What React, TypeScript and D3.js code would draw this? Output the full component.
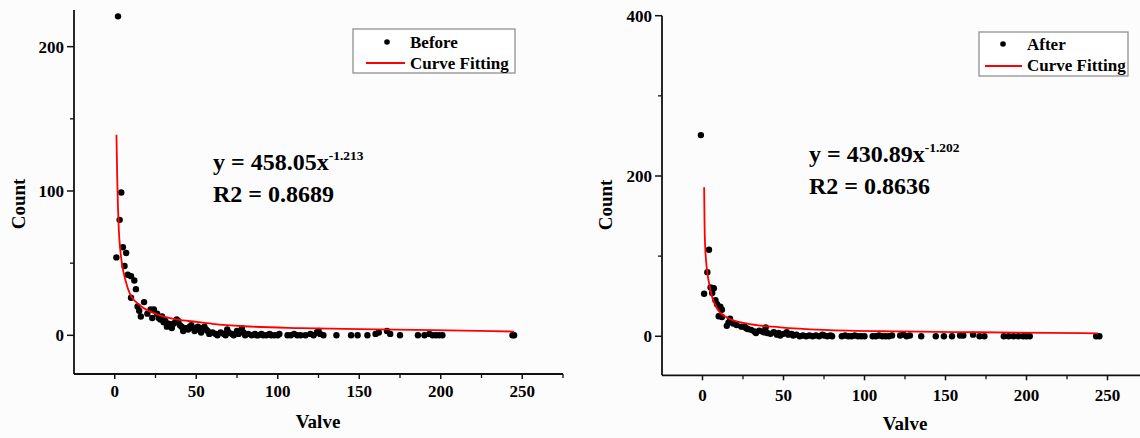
import React from 'react';
import * as d3 from 'd3';

// tick values
const xTicks = [0, 50, 100, 150, 200, 250];
const xMinorTicks = [25, 75, 125, 175, 225, 275];
const beforeYTicks = [0, 100, 200];
const beforeYMinor = [50, 150];
const afterYTicks = [0, 200, 400];
const afterYMinor = [100, 300];

// [Valve, Count]
const beforePoints: [number, number][] = [
  [2, 221], [1, 54], [3, 80], [4, 99], [5, 61], [7, 57], [6, 48], [8, 42], [10, 41], [12, 38],
  [13, 32], [10, 26], [14, 20], [18, 23], [16, 13], [15, 17], [22, 18], [20, 15], [26, 15], [23, 12],
  [24, 18], [27, 12], [28, 11], [29, 13], [30, 9], [31, 10], [32, 6], [33, 8], [34, 7], [35, 5],
  [36, 8], [37, 9], [38, 11], [39, 10], [40, 7], [41, 6], [42, 3], [43, 5], [44, 5], [45, 4],
  [46, 6], [47, 7], [48, 5], [49, 3], [50, 4], [51, 6], [52, 5], [53, 2], [54, 5], [55, 6],
  [56, 4], [57, 3], [58, 1], [60, 2], [62, 1], [63, 0], [65, 2], [67, 1], [68, 0], [69, 4],
  [70, 2], [72, 1], [73, 0], [75, 3], [76, 1], [78, 5], [79, 2], [80, 0], [82, 1], [84, 0],
  [86, 1], [87, 0], [88, 0], [90, 1], [91, 0], [93, 0], [95, 1], [96, 0], [98, 0], [100, 0],
  [101, 1], [106, 0], [108, 0], [110, 1], [112, 0], [114, 0], [117, 0], [120, 1], [122, 0], [124, 2],
  [125, 3], [126, 1], [128, 0], [136, 0], [145, 0], [149, 0], [155, 0], [160, 1], [162, 2], [167, 3],
  [169, 1], [175, 0], [186, 0], [190, 0], [193, 1], [195, 0], [197, 0], [199, 0], [201, 0], [244, 0],
  [245, 0],
];

const beforeFit: [number, number][] = [
  [1.05, 139], [1.5, 110], [2, 88], [2.5, 73], [3.5, 58], [4.5, 49], [6.6, 38], [9.6, 28],
  [15.8, 20.5], [26, 14.5], [38, 11], [50, 9.3], [60, 8], [79, 6.3], [114, 5], [150, 4.3],
  [196, 3.6], [245, 2.6],
];

const afterPoints: [number, number][] = [
  [-1, 251], [1, 53], [3, 80], [4, 108], [5, 61], [6, 54], [7, 60], [8, 45], [9, 40], [11, 37],
  [12, 33], [10, 25], [12, 24], [17, 22], [15, 13], [16, 17], [19, 16], [21, 14], [24, 12], [26, 12],
  [28, 9], [27, 10], [30, 8], [32, 6], [33, 4], [35, 7], [37, 6], [39, 11], [38, 5], [40, 4],
  [42, 3], [44, 5], [46, 2], [47, 4], [48, 1], [50, 3], [52, 5], [53, 2], [55, 3], [56, 1],
  [58, 2], [60, 0], [62, 1], [64, 0], [66, 1], [68, 0], [70, 1], [72, 0], [74, 2], [75, 1],
  [77, 0], [79, 1], [80, 0], [86, 0], [88, 1], [90, 0], [92, 0], [94, 1], [96, 0], [98, 0],
  [100, 0], [105, 0], [107, 0], [109, 1], [111, 0], [113, 0], [115, 0], [117, 1], [122, 1], [124, 2],
  [126, 0], [128, 1], [135, 0], [144, 0], [149, 0], [154, 0], [159, 1], [161, 1], [167, 2], [171, 0],
  [174, 0], [186, 0], [189, 0], [192, 0], [195, 0], [198, 0], [200, 0], [202, 0], [243, 0], [245, 0],
];

const afterFit: [number, number][] = [
  [1.0, 186], [1.3, 135], [1.7, 110], [2.3, 92], [3.7, 70], [5.8, 50], [8.9, 35], [15, 23.5],
  [27, 16], [48, 11.2], [75, 8], [122, 6], [171, 5], [244, 3.7],
];

const FONT = '"Liberation Serif", "Times New Roman", serif';

type PanelProps = {
  points: [number, number][];
  fit: [number, number][];
  xRange: [number, number];
  yDomain: [number, number];
  yRange: [number, number];
  yTicks: number[];
  yMinor: number[];
  label: string;
  box: { x: number; y: number; w: number; h: number };
  dot: [number, number];
  swatch: [number, number, number];
  legendText: [number, number, number];
  eq: { x: number; y: number; coef: string; exp: string; r2: string };
  countPos: [number, number];
  valvePos: [number, number];
  xLabelY: number;
};

const Panel = (p: PanelProps) => {
  const x = d3.scaleLinear().domain([-25, 275]).range(p.xRange);
  const y = d3.scaleLinear().domain(p.yDomain).range(p.yRange);
  const line = d3.line<[number, number]>()
    .x(d => x(d[0]))
    .y(d => y(d[1]))
    .curve(d3.curveMonotoneX);
  const x0 = p.xRange[0];
  const yb = p.yRange[0];

  return (
    <g fontFamily={FONT} fontWeight="bold">
      {/* axes */}
      <line x1={x0} x2={x0} y1={p.yRange[0]} y2={p.yRange[1]} stroke="#111" strokeWidth={1.8} />
      <line x1={x0} x2={p.xRange[1]} y1={yb} y2={yb} stroke="#111" strokeWidth={1.8} />
      {p.yTicks.map(t => (
        <g key={'yt' + t}>
          <line x1={x0 - 7} x2={x0} y1={y(t)} y2={y(t)} stroke="#111" strokeWidth={1.5} />
          <text x={x0 - 10} y={y(t)} dy="0.35em" textAnchor="end" fontSize={17}>{t}</text>
        </g>
      ))}
      {p.yMinor.map(t => (
        <line key={'ym' + t} x1={x0 - 4} x2={x0} y1={y(t)} y2={y(t)} stroke="#111" strokeWidth={1.3} />
      ))}
      {xTicks.map(t => (
        <g key={'xt' + t}>
          <line x1={x(t)} x2={x(t)} y1={yb} y2={yb + 5} stroke="#111" strokeWidth={1.5} />
          <text x={x(t)} y={p.xLabelY} textAnchor="middle" fontSize={17}>{t}</text>
        </g>
      ))}
      {xMinorTicks.map(t => (
        <line key={'xm' + t} x1={x(t)} x2={x(t)} y1={yb} y2={yb + 4} stroke="#111" strokeWidth={1.3} />
      ))}
      <text x={p.valvePos[0]} y={p.valvePos[1]} textAnchor="middle" fontSize={19}>Valve</text>
      <text transform={`translate(${p.countPos[0]},${p.countPos[1]}) rotate(-90)`} textAnchor="middle" fontSize={19}>Count</text>

      {/* data */}
      {p.points.map((d, i) => (
        <circle key={i} cx={x(d[0])} cy={y(d[1])} r={3.2} fill="#000" />
      ))}
      <path d={line(p.fit) || ''} fill="none" stroke="#ff0000" strokeWidth={1.8} />

      {/* equation */}
      <text x={p.eq.x} y={p.eq.y} fontSize={24}>
        y = {p.eq.coef}x
        <tspan fontSize={13.5} dy={-10}>{p.eq.exp}</tspan>
      </text>
      <text x={p.eq.x} y={p.eq.y + 32} fontSize={24}>R2 = {p.eq.r2}</text>

      {/* legend */}
      <rect x={p.box.x} y={p.box.y} width={p.box.w} height={p.box.h} fill="#fff" stroke="#888" strokeWidth={1.2} />
      <circle cx={p.dot[0]} cy={p.dot[1]} r={2.8} fill="#000" />
      <line x1={p.swatch[0]} x2={p.swatch[1]} y1={p.swatch[2]} y2={p.swatch[2]} stroke="#ff0000" strokeWidth={1.8} />
      <text x={p.legendText[0]} y={p.legendText[1]} fontSize={17}>{p.label}</text>
      <text x={p.legendText[0]} y={p.legendText[2]} fontSize={17}>Curve Fitting</text>
    </g>
  );
};

const App = () => (
  <svg width={1140} height={438} style={{ position: 'absolute', left: 0, top: 0, background: '#fcfcfc' }}>
    <Panel
      points={beforePoints}
      fit={beforeFit}
      xRange={[74, 563]}
      yDomain={[-26.8, 225.4]}
      yRange={[374, 10]}
      yTicks={beforeYTicks}
      yMinor={beforeYMinor}
      label="Before"
      box={{ x: 353, y: 29, w: 162, h: 44 }}
      dot={[387, 42]}
      swatch={[366, 405, 63]}
      legendText={[410, 47.5, 69]}
      eq={{ x: 213, y: 170, coef: '458.05', exp: '-1.213', r2: '0.8689' }}
      countPos={[25, 204]}
      valvePos={[318, 428]}
      xLabelY={397}
    />
    <Panel
      points={afterPoints}
      fit={afterFit}
      xRange={[662, 1148]}
      yDomain={[-48.7, 400]}
      yRange={[375.3, 15.7]}
      yTicks={afterYTicks}
      yMinor={afterYMinor}
      label="After"
      box={{ x: 979, y: 32, w: 149, h: 44 }}
      dot={[1003, 44]}
      swatch={[985, 1022, 66]}
      legendText={[1027, 50, 71]}
      eq={{ x: 809, y: 162, coef: '430.89', exp: '-1.202', r2: '0.8636' }}
      countPos={[612, 205]}
      valvePos={[905, 430]}
      xLabelY={401}
    />
  </svg>
);

export default App;
